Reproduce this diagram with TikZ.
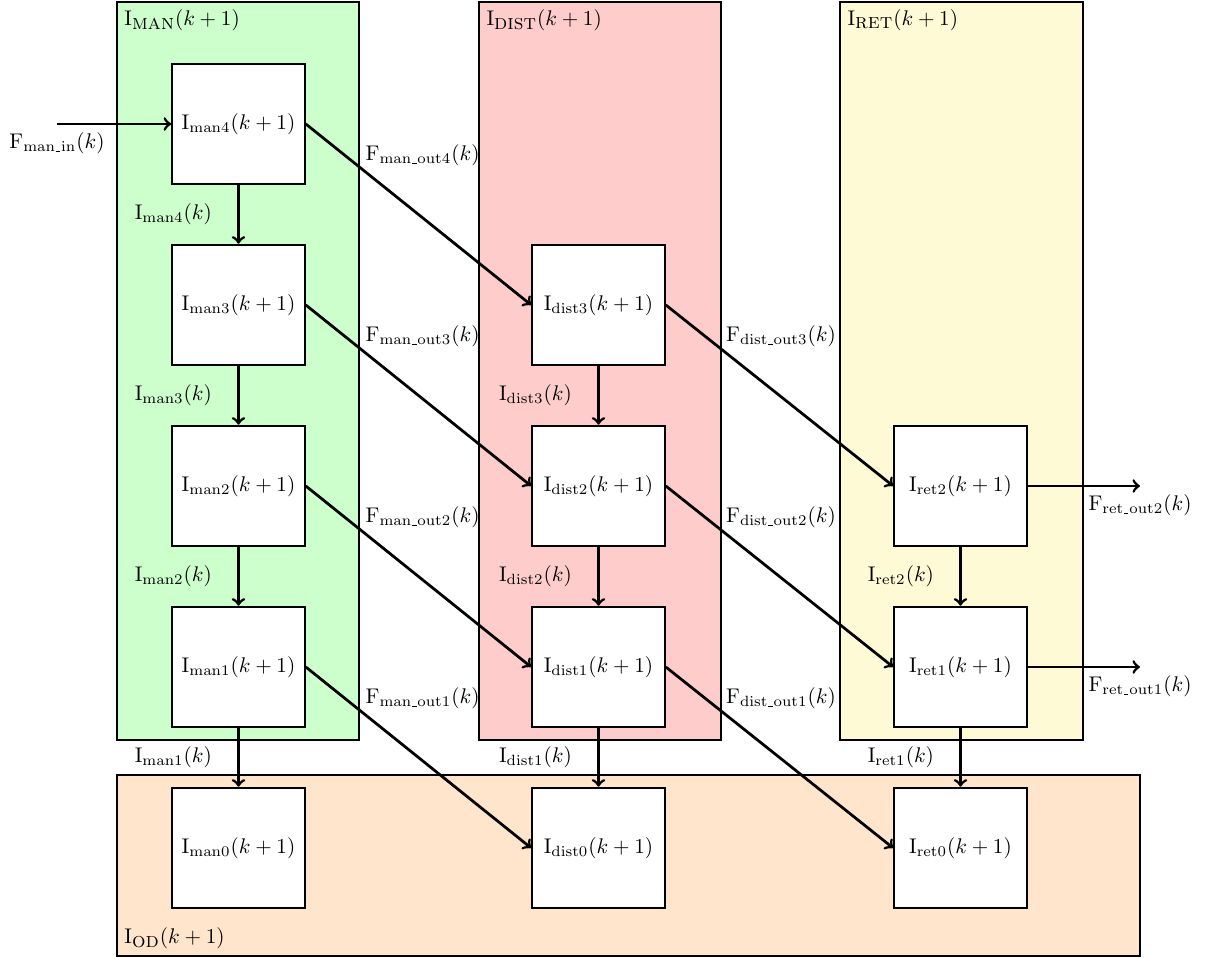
\documentclass[tikz,border=0pt]{standalone}
\usetikzlibrary{positioning}
\definecolor{manfill}{RGB}{204,255,204}
\definecolor{distfill}{RGB}{255,204,204}
\definecolor{retfill}{RGB}{255,250,214}
\definecolor{odfill}{RGB}{255,229,204}
% short low bar used inside subscripts
\newcommand{\lowbar}{\kern0.4pt\vbox{\hrule width 2.1pt height 0.35pt}\kern0.4pt}
\begin{document}
\begin{tikzpicture}[x=0.01657cm, y=-0.01657cm,
  stage/.style={draw, line width=0.9pt, fill=white, minimum width=2.2cm, minimum height=2cm, inner sep=0pt},
  groupbox/.style={draw, line width=0.9pt},
  flow/.style={->, line width=1.3pt},
  outlabel/.style={pos=0.25, anchor=south west, inner sep=1pt},
  stocklabel/.style={left=0.3cm}]
\useasboundingbox (0,0) rectangle (1207,958);

% echelon areas
\path[groupbox, fill=manfill] (117,2) rectangle (359,740);
\node[anchor=north west] (manlbl) at (117,2) {$\mathrm{I}_{\textsc{man}}(k+1)$};
\path[groupbox, fill=distfill] (479,2) rectangle (721,740);
\node[anchor=north west] (distlbl) at (479,2) {$\mathrm{I}_{\textsc{dist}}(k+1)$};
\path[groupbox, fill=retfill] (840,2) rectangle (1083,740);
\node[anchor=north west] (retlbl) at (840,2) {$\mathrm{I}_{\textsc{ret}}(k+1)$};
\path[groupbox, fill=odfill] (117,775) rectangle (1140,956);
\node[anchor=south west] (odlbl) at (117,956) {$\mathrm{I}_{\textsc{od}}(k+1)$};

% inventory stages
\node[stage] (man4) at (238.5,124) {$\mathrm{I}_{\mathrm{man4}}(k+1)$};
\node[stage] (man3) at (238.5,305) {$\mathrm{I}_{\mathrm{man3}}(k+1)$};
\node[stage] (man2) at (238.5,486) {$\mathrm{I}_{\mathrm{man2}}(k+1)$};
\node[stage] (man1) at (238.5,667) {$\mathrm{I}_{\mathrm{man1}}(k+1)$};
\node[stage] (man0) at (238.5,848) {$\mathrm{I}_{\mathrm{man0}}(k+1)$};

\node[stage] (dist3) at (598.5,305) {$\mathrm{I}_{\mathrm{dist3}}(k+1)$};
\node[stage] (dist2) at (598.5,486) {$\mathrm{I}_{\mathrm{dist2}}(k+1)$};
\node[stage] (dist1) at (598.5,667) {$\mathrm{I}_{\mathrm{dist1}}(k+1)$};
\node[stage] (dist0) at (598.5,848) {$\mathrm{I}_{\mathrm{dist0}}(k+1)$};

\node[stage] (ret2) at (960.5,486) {$\mathrm{I}_{\mathrm{ret2}}(k+1)$};
\node[stage] (ret1) at (960.5,667) {$\mathrm{I}_{\mathrm{ret1}}(k+1)$};
\node[stage] (ret0) at (960.5,848) {$\mathrm{I}_{\mathrm{ret0}}(k+1)$};

% external flows
\coordinate (fin) at (57,124);
\coordinate (fout2) at (1140,486);
\coordinate (fout1) at (1140,667);
\draw[flow] (fin) node[below] {$\mathrm{F}_{\mathrm{man\lowbar in}}(k)$} -- (man4);
\draw[flow] (ret2) -- (fout2) node[below] {$\mathrm{F}_{\mathrm{ret\lowbar out2}}(k)$};
\draw[flow] (ret1) -- (fout1) node[below] {$\mathrm{F}_{\mathrm{ret\lowbar out1}}(k)$};

% ageing within an echelon
\draw[flow] (man4) -- node[stocklabel] {$\mathrm{I}_{\mathrm{man4}}(k)$} (man3);
\draw[flow] (man3) -- node[stocklabel] {$\mathrm{I}_{\mathrm{man3}}(k)$} (man2);
\draw[flow] (man2) -- node[stocklabel] {$\mathrm{I}_{\mathrm{man2}}(k)$} (man1);
\draw[flow] (man1) -- node[stocklabel] {$\mathrm{I}_{\mathrm{man1}}(k)$} (man0);
\draw[flow] (dist3) -- node[stocklabel] {$\mathrm{I}_{\mathrm{dist3}}(k)$} (dist2);
\draw[flow] (dist2) -- node[stocklabel] {$\mathrm{I}_{\mathrm{dist2}}(k)$} (dist1);
\draw[flow] (dist1) -- node[stocklabel] {$\mathrm{I}_{\mathrm{dist1}}(k)$} (dist0);
\draw[flow] (ret2) -- node[stocklabel] {$\mathrm{I}_{\mathrm{ret2}}(k)$} (ret1);
\draw[flow] (ret1) -- node[stocklabel] {$\mathrm{I}_{\mathrm{ret1}}(k)$} (ret0);

% shipments between echelons
\draw[flow] (man4.east) -- node[outlabel] {$\mathrm{F}_{\mathrm{man\lowbar out4}}(k)$} (dist3.west);
\draw[flow] (man3.east) -- node[outlabel] {$\mathrm{F}_{\mathrm{man\lowbar out3}}(k)$} (dist2.west);
\draw[flow] (man2.east) -- node[outlabel] {$\mathrm{F}_{\mathrm{man\lowbar out2}}(k)$} (dist1.west);
\draw[flow] (man1.east) -- node[outlabel] {$\mathrm{F}_{\mathrm{man\lowbar out1}}(k)$} (dist0.west);
\draw[flow] (dist3.east) -- node[outlabel] {$\mathrm{F}_{\mathrm{dist\lowbar out3}}(k)$} (ret2.west);
\draw[flow] (dist2.east) -- node[outlabel] {$\mathrm{F}_{\mathrm{dist\lowbar out2}}(k)$} (ret1.west);
\draw[flow] (dist1.east) -- node[outlabel] {$\mathrm{F}_{\mathrm{dist\lowbar out1}}(k)$} (ret0.west);
\end{tikzpicture}
\end{document}
